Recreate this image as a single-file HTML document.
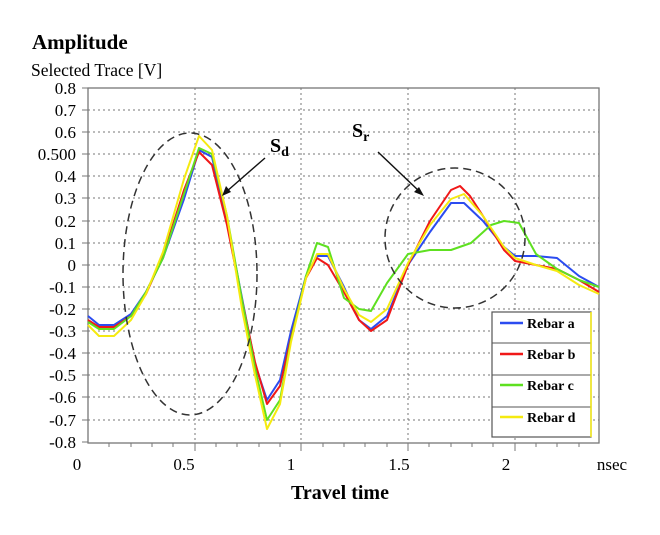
<!DOCTYPE html><html><head><style>body{margin:0;background:#fff}</style></head><body>
<svg width="660" height="530" xmlns="http://www.w3.org/2000/svg" font-family="Liberation Serif, serif">
<text x="32" y="49" font-size="21" font-weight="bold">Amplitude</text>
<text x="31" y="76" font-size="17.5">Selected Trace [V]</text>
<g stroke="#777" stroke-width="1" stroke-dasharray="2,3">
<line x1="88" y1="110" x2="599" y2="110"/><line x1="88" y1="132" x2="599" y2="132"/><line x1="88" y1="154" x2="599" y2="154"/><line x1="88" y1="176" x2="599" y2="176"/><line x1="88" y1="198" x2="599" y2="198"/><line x1="88" y1="221" x2="599" y2="221"/><line x1="88" y1="243" x2="599" y2="243"/><line x1="88" y1="265" x2="599" y2="265"/><line x1="88" y1="287" x2="599" y2="287"/><line x1="88" y1="309" x2="599" y2="309"/><line x1="88" y1="331" x2="599" y2="331"/><line x1="88" y1="353" x2="599" y2="353"/><line x1="88" y1="375" x2="599" y2="375"/><line x1="88" y1="397" x2="599" y2="397"/><line x1="88" y1="420" x2="599" y2="420"/>
<line x1="195" y1="88" x2="195" y2="443"/><line x1="301" y1="88" x2="301" y2="443"/><line x1="408" y1="88" x2="408" y2="443"/><line x1="515" y1="88" x2="515" y2="443"/>
</g>
<rect x="88" y="88" width="511" height="355" fill="none" stroke="#777" stroke-width="1.3"/>
<g stroke="#777">
<path d="M82 88h6M82 110h6M82 132h6M82 154h6M82 176h6M82 198h6M82 221h6M82 243h6M82 265h6M82 287h6M82 309h6M82 331h6M82 353h6M82 375h6M82 397h6M82 420h6M82 442h6"/>
<path d="M195 443v8M301 443v8M408 443v8M515 443v8M109 443v4M131 443v4M152 443v4M173 443v4M216 443v4M237 443v4M259 443v4M280 443v4M323 443v4M344 443v4M365 443v4M387 443v4M429 443v4M451 443v4M472 443v4M493 443v4M536 443v4M557 443v4M579 443v4"/>
</g>
<g font-size="17" text-anchor="end">
<text x="76" y="94">0.8</text><text x="76" y="116">0.7</text><text x="76" y="138">0.6</text><text x="76" y="160">0.500</text><text x="76" y="182">0.4</text><text x="76" y="204">0.3</text><text x="76" y="227">0.2</text><text x="76" y="249">0.1</text><text x="76" y="271">0</text><text x="76" y="293">-0.1</text><text x="76" y="315">-0.2</text><text x="76" y="337">-0.3</text><text x="76" y="359">-0.4</text><text x="76" y="381">-0.5</text><text x="76" y="403">-0.6</text><text x="76" y="426">-0.7</text><text x="76" y="448">-0.8</text>
</g>
<g font-size="17" text-anchor="middle">
<text x="77" y="470">0</text><text x="184" y="470">0.5</text><text x="291" y="470">1</text><text x="399" y="470">1.5</text><text x="506" y="470">2</text><text x="612" y="470">nsec</text>
</g>
<text x="340" y="499" font-size="20" font-weight="bold" text-anchor="middle">Travel time</text>
<g fill="none" stroke-width="2" stroke-linejoin="round">
<polyline stroke="#2b4cf0" points="88,316 99,325 114,325 131,314 146,292 163,258 184,199 199,150 212,157 227,221 242,298 255,364 267,400 280,380 291,331 306,276 317,256 328,256 344,287 359,320 371,329 387,316 408,265 430,232 451,203 464,203 483,221 504,247 515,256 536,256 557,258 579,276 599,287"/>
<polyline stroke="#f01818" points="88,320 99,327 114,327 131,316 146,294 163,256 184,190 199,152 212,165 227,225 242,300 255,362 267,404 280,386 291,338 306,278 317,258 328,265 344,292 359,320 371,331 387,320 408,265 430,221 451,190 460,186 470,196 483,216 504,250 515,261 536,265 557,269 579,280 599,292"/>
<polyline stroke="#5ee020" points="88,322 99,329 114,329 131,316 146,292 163,258 184,194 199,148 212,154 227,216 242,300 255,368 267,420 280,400 291,340 306,276 317,243 328,247 344,298 359,309 371,311 387,283 408,254 430,250 451,250 471,243 491,225 504,221 519,223 536,254 557,269 579,280 599,287"/>
<polyline stroke="#f5ea10" points="88,325 99,336 114,336 131,320 146,294 163,252 184,179 199,136 212,150 227,216 242,309 255,375 267,429 280,404 291,342 306,278 317,254 328,254 344,289 359,315 371,322 387,309 408,263 430,225 451,199 464,194 483,216 504,247 515,258 536,265 557,271 579,285 599,294"/>
</g>
<g fill="none" stroke="#333" stroke-width="1.5" stroke-dasharray="8,5">
<ellipse cx="190" cy="274" rx="67" ry="141"/>
<circle cx="455" cy="238" r="70"/>
</g>
<g stroke="#111" stroke-width="1.4">
<line x1="265" y1="158" x2="226" y2="192"/><line x1="378" y1="152" x2="420" y2="192"/>
</g>
<path d="M222 196l4-10 5 6z M424 196l-10-4 5-5z" fill="#111"/>
<text x="270" y="152" font-size="20" font-weight="bold">S<tspan font-size="14" dy="4">d</tspan></text>
<text x="352" y="137" font-size="20" font-weight="bold">S<tspan font-size="14" dy="4">r</tspan></text>
<rect x="492" y="312" width="99" height="125" fill="#fff" stroke="#555" stroke-width="1.2"/>
<path d="M492 343h99M492 375h99M492 407h99" stroke="#555"/>
<line x1="591" y1="312" x2="591" y2="437" stroke="#f5ea10" stroke-width="1.5"/>
<g stroke-width="2.5"><line x1="500" y1="323" x2="523" y2="323" stroke="#2b4cf0"/><line x1="500" y1="354" x2="523" y2="354" stroke="#f01818"/><line x1="500" y1="385" x2="523" y2="385" stroke="#5ee020"/><line x1="500" y1="417" x2="523" y2="417" stroke="#f5ea10"/></g>
<g font-size="14" font-weight="bold"><text x="527" y="328">Rebar a</text><text x="527" y="359">Rebar b</text><text x="527" y="390">Rebar c</text><text x="527" y="422">Rebar d</text></g>
</svg></body></html>
